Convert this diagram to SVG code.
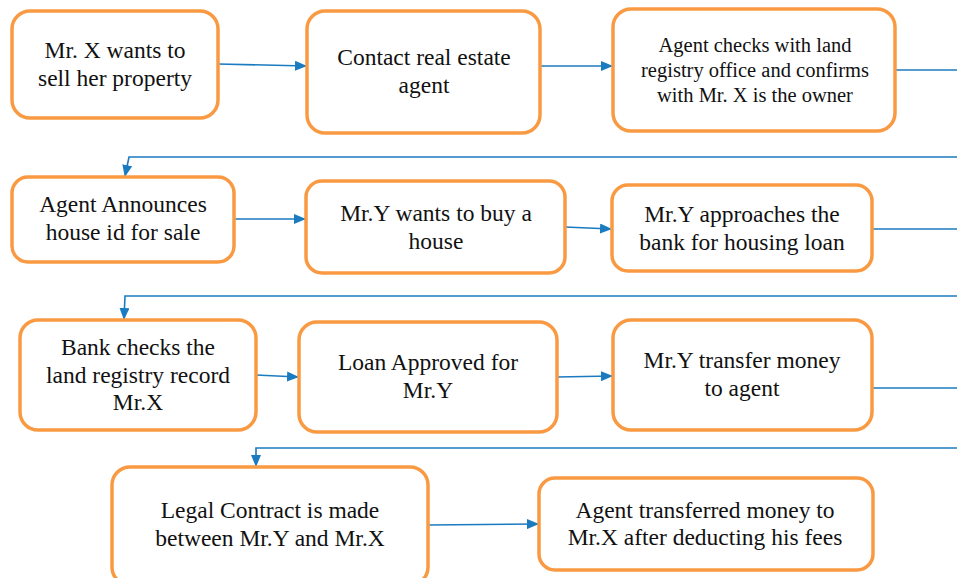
<svg xmlns="http://www.w3.org/2000/svg" width="957" height="578" viewBox="0 0 957 578">
<defs>
<marker id="ah" markerUnits="userSpaceOnUse" markerWidth="12" markerHeight="10" refX="11" refY="5" orient="auto">
<path d="M0,0 L12,5 L0,10 Z" fill="#1B7BC0"/>
</marker>
<style>
.box{fill:#fff;stroke:#F99A43;stroke-width:3.5}
.t{font-family:"Liberation Serif","Times New Roman",serif;font-size:23.5px;fill:#111;text-anchor:middle}
.s{font-size:20.5px}
.c{fill:none;stroke:#1B7BC0;stroke-width:1.6}
</style>
</defs>
<rect width="957" height="578" fill="#fff"/>
<g id="connectors">
<path class="c" d="M218,64 L306,66" marker-end="url(#ah)"/>
<path class="c" d="M540,66 L612,66" marker-end="url(#ah)"/>
<path class="c" d="M895,70 L957,70"/>
<path class="c" d="M957,157 L129,157 L125,176" marker-end="url(#ah)"/>
<path class="c" d="M234,219 L305,219" marker-end="url(#ah)"/>
<path class="c" d="M565,227 L611,229" marker-end="url(#ah)"/>
<path class="c" d="M872,229 L957,229"/>
<path class="c" d="M957,296 L125,296 L124,319" marker-end="url(#ah)"/>
<path class="c" d="M256,375 L298,377" marker-end="url(#ah)"/>
<path class="c" d="M557,377 L612,376" marker-end="url(#ah)"/>
<path class="c" d="M872,388 L957,388"/>
<path class="c" d="M957,448 L256,448 L256,466" marker-end="url(#ah)"/>
<path class="c" d="M428,525 L538,524" marker-end="url(#ah)"/>
</g>
<g id="n1"><rect class="box" x="12" y="11" width="206" height="107" rx="18"/>
<text class="t" x="115" y="58">Mr. X wants to</text><text class="t" x="115" y="86">sell her property</text></g>
<g id="n2"><rect class="box" x="307" y="11" width="233" height="122" rx="18"/>
<text class="t" x="424" y="65">Contact real estate</text><text class="t" x="424" y="93">agent</text></g>
<g id="n3"><rect class="box" x="613" y="9" width="282" height="122" rx="18"/>
<text class="t s" x="755" y="52">Agent checks with land</text><text class="t s" x="755" y="77">registry office and confirms</text><text class="t s" x="755" y="102">with Mr. X is the owner</text></g>
<g id="n4"><rect class="box" x="12" y="177" width="222" height="85" rx="16"/>
<text class="t" x="123" y="212">Agent Announces</text><text class="t" x="123" y="240">house id for sale</text></g>
<g id="n5"><rect class="box" x="306" y="181" width="259" height="92" rx="16"/>
<text class="t" x="436" y="221">Mr.Y wants to buy a</text><text class="t" x="436" y="249">house</text></g>
<g id="n6"><rect class="box" x="612" y="185" width="260" height="86" rx="16"/>
<text class="t" x="742" y="222">Mr.Y approaches the</text><text class="t" x="742" y="250">bank for housing loan</text></g>
<g id="n7"><rect class="box" x="20" y="320" width="236" height="110" rx="18"/>
<text class="t" x="138" y="355">Bank checks the</text><text class="t" x="138" y="383">land registry record</text><text class="t" x="138" y="410">Mr.X</text></g>
<g id="n8"><rect class="box" x="299" y="322" width="258" height="110" rx="18"/>
<text class="t" x="428" y="370">Loan Approved for</text><text class="t" x="428" y="398">Mr.Y</text></g>
<g id="n9"><rect class="box" x="613" y="320" width="259" height="110" rx="18"/>
<text class="t" x="742" y="368">Mr.Y transfer money</text><text class="t" x="742" y="396">to agent</text></g>
<g id="n10"><rect class="box" x="112" y="467" width="316" height="118" rx="18"/>
<text class="t" x="270" y="518">Legal Contract is made</text><text class="t" x="270" y="546">between Mr.Y and Mr.X</text></g>
<g id="n11"><rect class="box" x="539" y="478" width="334" height="92" rx="16"/>
<text class="t" x="705" y="518">Agent transferred money to</text><text class="t" x="705" y="545">Mr.X after deducting his fees</text></g>
</svg>
